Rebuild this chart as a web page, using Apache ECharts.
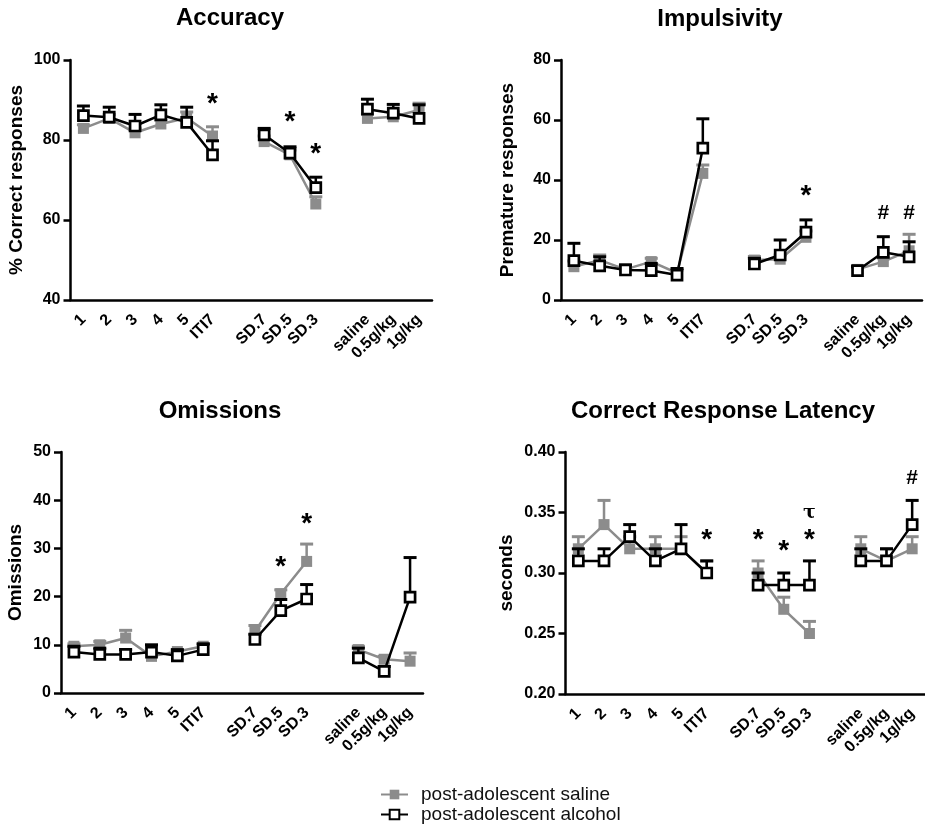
<!DOCTYPE html>
<html>
<head>
<meta charset="utf-8">
<script src="https://cdn.jsdelivr.net/npm/echarts@6/dist/echarts.min.js"></script>
<style>html,body{margin:0;padding:0;background:#fff;}#c{width:925px;height:834px;}</style>
</head>
<body>
<div id="c"></div>
<script>
// ---------- DATA ----------
const categories = ['1','2','3','4','5','ITI7','','SD.7','SD.5','SD.3','','saline','0.5g/kg','1g/kg'];

// Accuracy (% correct)
const accSaline     = [82.9, 85.4, 81.8, 84.0, 85.5, 81.0, null, 79.6, 76.3, 64.0, null, 85.4, 85.8, 87.5];
const accSalineErr  = [83.8, 86.4, 82.8, 85.0, 87.0, 83.3, null, 81.0, 77.5, 65.8, null, 86.5, 87.0, 89.2];
const accAlcohol    = [86.1, 85.7, 83.5, 86.3, 84.4, 76.3, null, 81.3, 76.7, 68.1, null, 87.7, 86.7, 85.4];
const accAlcoholErr = [88.5, 88.2, 86.4, 88.8, 88.2, 79.8, null, 82.9, 78.3, 70.7, null, 90.2, 88.9, 88.8];
const accMarks = [[5, 90.5, '*'], [8, 86.0, '*'], [9, 78.0, '*']];

// Impulsivity (premature responses)
const impSaline     = [11.1, 13.3, 10.2, 12.8, 9.0, 42.2, null, 13.3, 13.6, 20.9, null, 10.2, 12.8, 16.4];
const impSalineErr  = [13.0, 15.0, 11.5, 13.9, 10.0, 45.0, null, 14.5, 15.0, 23.0, null, 11.0, 14.0, 21.9];
const impAlcohol    = [13.1, 11.4, 10.0, 9.8, 8.3, 50.6, null, 12.0, 15.0, 22.6, null, 9.8, 15.9, 14.4];
const impAlcoholErr = [18.9, 14.4, 11.7, 12.2, 10.5, 60.4, null, 13.9, 20.0, 26.7, null, 11.1, 21.1, 19.4];
const impMarks = [[9, 36.5, '*'], [12, 28.9, '#'], [13, 28.9, '#']];

// Omissions
const omiSaline     = [9.7, 10.0, 11.4, 7.6, 8.6, 9.7, null, 12.8, 20.6, 27.3, null, 9.0, 7.0, 6.6];
const omiSalineErr  = [10.2, 10.7, 13.0, 8.2, 8.9, 10.2, null, 14.0, 21.4, 30.9, null, 9.7, 7.6, 8.3];
const omiAlcohol    = [8.5, 8.0, 8.0, 8.5, 7.7, 9.0, null, 11.1, 17.1, 19.5, null, 7.3, 4.5, 19.9];
const omiAlcoholErr = [9.7, 9.3, 9.0, 10.0, 9.0, 10.2, null, 12.2, 19.4, 22.5, null, 9.3, 5.5, 28.1];
const omiMarks = [[8, 27.3, '*'], [9, 36.3, '*']];

// Correct response latency (seconds)
const latSaline     = [0.32, 0.34, 0.32, 0.32, 0.32, 0.30, null, 0.30, 0.27, 0.25, null, 0.32, 0.31, 0.32];
const latSalineErr  = [0.33, 0.36, 0.33, 0.33, 0.33, 0.31, null, 0.31, 0.28, 0.26, null, 0.33, 0.32, 0.33];
const latAlcohol    = [0.31, 0.31, 0.33, 0.31, 0.32, 0.30, null, 0.29, 0.29, 0.29, null, 0.31, 0.31, 0.34];
const latAlcoholErr = [0.32, 0.32, 0.34, 0.32, 0.34, 0.31, null, 0.30, 0.30, 0.31, null, 0.32, 0.32, 0.36];
const latMarks = [[5, 0.332, '*'], [7, 0.332, '*'], [8, 0.323, '*'], [9, 0.332, '*'], [9, 0.348, 'τ'], [13, 0.378, '#']];

const panelTitles = ['Accuracy', 'Impulsivity', 'Omissions', 'Correct Response Latency'];
const yNames = ['% Correct responses', 'Premature responses', 'Omissions', 'seconds'];
const yRanges = [[40, 100, 20], [0, 80, 20], [0, 50, 10], [0.20, 0.40, 0.05]];
const seriesNames = ['post-adolescent saline', 'post-adolescent alcohol'];

// ---------- STYLE / LAYOUT ----------
const FONT = "'Liberation Sans', Arial, sans-serif";
const GRAY = '#8c8c8c';
const BLACK = '#000';
const grids = [
  {left: 70.5, top: 60, width: 361.5, height: 240},
  {left: 561, top: 60, width: 361, height: 240},
  {left: 61, top: 452, width: 362, height: 241},
  {left: 565.5, top: 452, width: 362.5, height: 242}
];
const titlePos = [[230, 6], [720, 7], [220, 399], [723, 399]];
const nameGaps = [44, 44, 36, 49];

const panels = [
  {s: accSaline, se: accSalineErr, a: accAlcohol, ae: accAlcoholErr, m: accMarks},
  {s: impSaline, se: impSalineErr, a: impAlcohol, ae: impAlcoholErr, m: impMarks},
  {s: omiSaline, se: omiSalineErr, a: omiAlcohol, ae: omiAlcoholErr, m: omiMarks},
  {s: latSaline, se: latSalineErr, a: latAlcohol, ae: latAlcoholErr, m: latMarks}
];

function errData(vals, errs) {
  const out = [];
  vals.forEach((v, i) => { if (v != null) out.push([i, v, errs[i]]); });
  return out;
}
function errRender(color) {
  return function (params, api) {
    const p = api.coord([api.value(0), api.value(1)]);
    const t = api.coord([api.value(0), api.value(2)]);
    const hw = 6.5;
    return {
      type: 'group',
      children: [
        {type: 'line', shape: {x1: p[0], y1: p[1], x2: p[0], y2: t[1]}, style: {stroke: color, lineWidth: 2.5}},
        {type: 'line', shape: {x1: p[0] - hw, y1: t[1], x2: p[0] + hw, y2: t[1]}, style: {stroke: color, lineWidth: 3}}
      ]
    };
  };
}
function markRender(marks) {
  return function (params, api) {
    const m = marks[params.dataIndex];
    const p = api.coord([m[0], m[1]]);
    const txt = m[2];
    let size = 28, dy = 6, fam = FONT;
    if (txt === '#') { size = 21; dy = 0; }
    if (txt === 'τ') { size = 19; dy = -2; fam = "'DejaVu Serif', serif"; }
    return {
      type: 'text', x: p[0], y: p[1] + dy,
      style: {text: txt, fill: '#000', fontSize: size, fontWeight: 'bold', fontFamily: fam, align: 'center', verticalAlign: 'middle'}
    };
  };
}

const option = {
  animation: false,
  backgroundColor: '#fff',
  title: panelTitles.map((t, i) => ({
    text: t, left: titlePos[i][0], top: titlePos[i][1], textAlign: 'center', padding: 0,
    textStyle: {fontFamily: FONT, fontSize: 24, fontWeight: 'bold', color: '#000'}
  })),
  legend: {
    data: seriesNames, orient: 'vertical', left: 380, top: 785, padding: 0, itemWidth: 27, itemHeight: 12, itemGap: 1,
    textStyle: {fontFamily: FONT, fontSize: 19, color: '#111', padding: [0, 0, 0, 8]}
  },
  grid: grids,
  xAxis: grids.map((g, i) => ({
    type: 'category', gridIndex: i, data: categories, boundaryGap: true,
    axisLine: {lineStyle: {color: BLACK, width: 2.5}},
    axisTick: {alignWithLabel: true, length: 7, lineStyle: {color: BLACK, width: 2.5}, interval: (idx, val) => val !== ''},
    axisLabel: {interval: 0, rotate: 45, margin: 17, color: '#000', fontFamily: FONT, fontSize: 16, fontWeight: 'bold'},
    splitLine: {show: false}
  })),
  yAxis: grids.map((g, i) => ({
    type: 'value', gridIndex: i, min: yRanges[i][0], max: yRanges[i][1], interval: yRanges[i][2],
    name: yNames[i], nameLocation: 'middle', nameGap: nameGaps[i],
    nameTextStyle: {fontFamily: FONT, fontSize: 19, fontWeight: 'bold', color: '#000'},
    axisLine: {show: true, lineStyle: {color: BLACK, width: 2.5}},
    axisTick: {show: true, length: 7, lineStyle: {color: BLACK, width: 2.5}},
    axisLabel: {margin: 10, color: '#000', fontFamily: FONT, fontSize: 16, fontWeight: 'bold',
      formatter: i === 3 ? (v => v.toFixed(2)) : (v => String(v))},
    splitLine: {show: false}
  })),
  series: []
};

panels.forEach((p, i) => {
  option.series.push({
    type: 'custom', xAxisIndex: i, yAxisIndex: i, z: 1, silent: true,
    renderItem: errRender(GRAY), data: errData(p.s, p.se), encode: {x: 0, y: [1, 2]}
  });
  option.series.push({
    name: seriesNames[0], type: 'line', xAxisIndex: i, yAxisIndex: i, z: 2,
    data: p.s, connectNulls: false, symbol: 'rect', symbolSize: 11,
    lineStyle: {color: GRAY, width: 2.5}, itemStyle: {color: GRAY, borderColor: GRAY, borderWidth: 0}
  });
  option.series.push({
    type: 'custom', xAxisIndex: i, yAxisIndex: i, z: 3, silent: true,
    renderItem: errRender(BLACK), data: errData(p.a, p.ae), encode: {x: 0, y: [1, 2]}
  });
  option.series.push({
    name: seriesNames[1], type: 'line', xAxisIndex: i, yAxisIndex: i, z: 4,
    data: p.a, connectNulls: false, symbol: 'rect', symbolSize: 10, showSymbol: true,
    lineStyle: {color: BLACK, width: 2.5}, itemStyle: {color: '#fff', borderColor: BLACK, borderWidth: 2.7}
  });
  option.series.push({
    type: 'custom', xAxisIndex: i, yAxisIndex: i, z: 5, silent: true,
    renderItem: markRender(p.m), data: p.m.map(m => [m[0], m[1]]), encode: {x: 0, y: 1}
  });
});

const chart = echarts.init(document.getElementById('c'), null, {renderer: 'canvas'});
chart.setOption(option);
</script>
</body>
</html>
